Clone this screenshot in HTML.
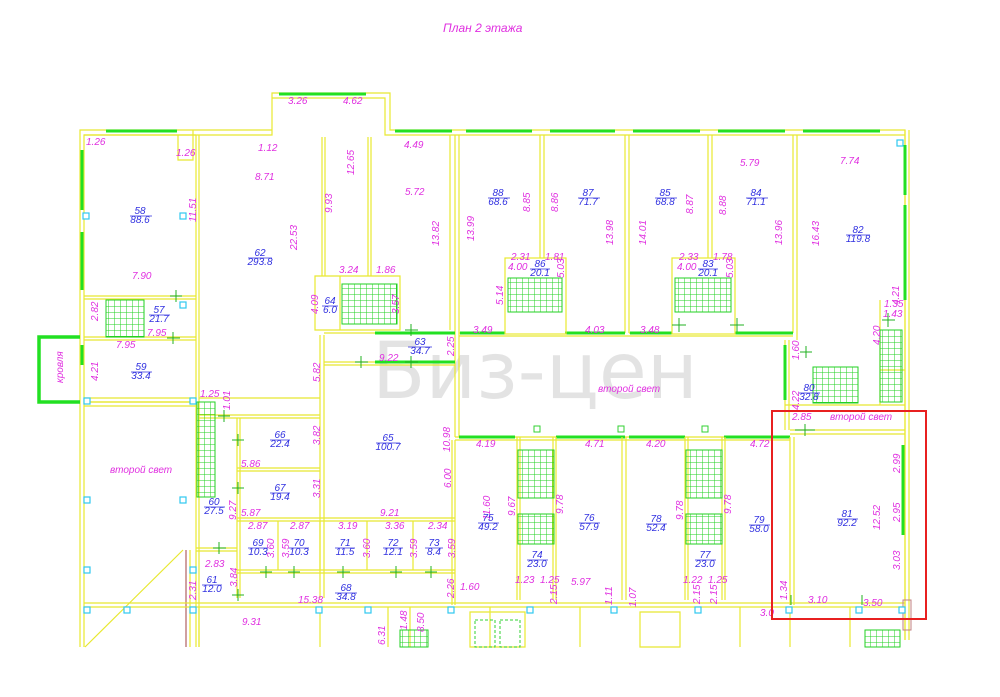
<!DOCTYPE html>
<html><head><meta charset="utf-8"><style>
html,body{margin:0;padding:0;background:#fff;}
svg{display:block;}
.y{fill:none;stroke:#e8e830;stroke-width:1.2}
.g{fill:none;stroke:#22e022;stroke-width:3}
.c{fill:#fff;stroke:#30c8f0;stroke-width:1.2}
text{font-family:"Liberation Sans",sans-serif;font-style:italic;}
.m{fill:#e030e0;font-size:10px}
.b{fill:#3030e0;font-size:10px;text-anchor:middle}
.t{fill:#e030e0;font-size:12px}
</style></head><body>
<svg width="1000" height="697" viewBox="0 0 1000 697" xmlns="http://www.w3.org/2000/svg">
<defs>
<pattern id="st" width="6" height="6" patternUnits="userSpaceOnUse"><path d="M0 0H6M0 0V6" stroke="#22d022" stroke-width="1" fill="none"/></pattern>
</defs>
<text class="t" x="443" y="32">План 2 этажа</text>

<text x="372" y="398" style="font-style:normal;font-size:78px;fill:#000;fill-opacity:0.11;font-family:'DejaVu Sans',sans-serif">Биз-цен</text>

<path class="y" d="M80 647V130H193V135H199M80 130H272V93H390V130H905V640M84 647V135H272V98H385V135H905"/>
<path class="y" d="M905 130V640M909 130V640M84 135H196M199 135V647M196 135V647"/>
<path class="g" d="M106 131H177M279 94H366M395 131H452M466 131H532M550 131H615M633 131H700M718 131H785M803 131H880"/>
<path class="g" d="M82 150V210M82 232V290M82 345V365M905 145V195M905 205V300M903 445V535"/>
<path class="g" style="stroke-width:3.5" d="M80 337H39V402H80"/>
<text class="m" transform="translate(63 383) rotate(-90)">кровля</text>

<path class="y" d="M84 296H196M84 299H196M84 337H196M84 340H196M84 398H196M84 402H196M193 135V160H178V135"/>
<rect x="106" y="300" width="38" height="37" fill="url(#st)" stroke="#22d022"/>
<path class="y" d="M322 137V276M325 137V276M368 137V276M371 137V276M455 135V437M459 135V437M450 135V330"/>
<path class="y" d="M315 276H400V330H315ZM340 276V330"/>
<rect x="342" y="284" width="55" height="40" fill="url(#st)" stroke="#22d022"/>
<path class="y" d="M320 335V598M324 335V598M324 333H455M324 362H455M324 365H455M199 398H320"/>
<path class="g" d="M375 333H455M375 362H455"/>
<path class="y" d="M540 135V258M544 135V258M625 135V333M629 135V333M708 135V258M712 135V258M793 135V333M797 135V340"/>
<path class="y" d="M459 333H505M565 333H625M629 333H672M735 333H793M459 336H793"/>
<path class="g" d="M460 333H505M565 333H625M630 333H672M735 333H793"/>
<rect x="505" y="258" width="61" height="76" class="y"/>
<rect x="672" y="258" width="63" height="76" class="y"/>
<rect x="508" y="278" width="54" height="34" fill="url(#st)" stroke="#22d022"/>
<rect x="675" y="278" width="56" height="34" fill="url(#st)" stroke="#22d022"/>
<path class="y" d="M785 340V430M789 340V430M785 405H905M880 300V405M880 370H905"/>
<rect x="813" y="367" width="45" height="36" fill="url(#st)" stroke="#22d022"/>
<rect x="880" y="330" width="22" height="72" fill="url(#st)" stroke="#22d022"/>
<path class="g" d="M785 345V400"/>
<path class="y" d="M455 437H790M455 440H790M790 430H905M790 434H905"/>
<path class="g" d="M459 437H515M556 437H625M629 437H685M724 437H790"/>
<path class="y" d="M517 437V600M520 437V600M553 437V600M556 437V600M622 437V600M626 437V600M685 437V600M688 437V600M722 437V600M725 437V600M790 437V605M794 437V605"/>
<rect x="518" y="450" width="36" height="48" fill="url(#st)" stroke="#22d022"/>
<rect x="518" y="514" width="36" height="30" fill="url(#st)" stroke="#22d022"/>
<rect x="686" y="450" width="36" height="48" fill="url(#st)" stroke="#22d022"/>
<rect x="686" y="514" width="36" height="30" fill="url(#st)" stroke="#22d022"/>
<path class="y" d="M199 415H320M199 418H320M237 418V598M240 418V598M237 468H320M237 471H320M320 518H455M237 518H320M237 521H455M237 570H455M237 573H455M455 440V605M452 440V605M278 521V570M320 521V570M367 521V570M413 521V570M196 548H237M196 551H237"/>
<rect x="197" y="402" width="18" height="95" fill="url(#st)" stroke="#22d022"/>
<path class="y" d="M84 402H196M84 406H196M85 647L183 550M190 550V647"/>
<path d="M186 550V647" stroke="#c08080" stroke-width="1.5" fill="none"/>
<path class="y" d="M84 603H905M84 607H905M199 607V647M320 607V647M388 607V647M410 607V647M490 607V647M580 607V647M740 607V647M790 607V647M850 607V647"/>
<path class="y" d="M470 612H525V647H470ZM640 612H680V647H640Z"/>
<rect x="475" y="620" width="20" height="27" fill="none" stroke="#30d030" stroke-dasharray="3 2"/>
<rect x="500" y="620" width="20" height="27" fill="none" stroke="#30d030" stroke-dasharray="3 2"/>
<rect x="400" y="630" width="28" height="17" fill="url(#st)" stroke="#22d022"/>
<rect x="865" y="630" width="35" height="17" fill="url(#st)" stroke="#22d022"/>
<rect x="903" y="600" width="8" height="30" fill="none" stroke="#c08080"/>
<g class="c">
<rect x="83" y="213" width="6" height="6"/><rect x="180" y="213" width="6" height="6"/><rect x="180" y="302" width="6" height="6"/>
<rect x="84" y="398" width="6" height="6"/><rect x="190" y="398" width="6" height="6"/><rect x="84" y="497" width="6" height="6"/><rect x="180" y="497" width="6" height="6"/>
<rect x="84" y="567" width="6" height="6"/><rect x="190" y="567" width="6" height="6"/>
<rect x="84" y="607" width="6" height="6"/><rect x="124" y="607" width="6" height="6"/><rect x="190" y="607" width="6" height="6"/>
<rect x="316" y="607" width="6" height="6"/><rect x="365" y="607" width="6" height="6"/><rect x="448" y="607" width="6" height="6"/>
<rect x="527" y="607" width="6" height="6"/><rect x="611" y="607" width="6" height="6"/><rect x="695" y="607" width="6" height="6"/>
<rect x="786" y="607" width="6" height="6"/><rect x="856" y="607" width="6" height="6"/><rect x="899" y="607" width="6" height="6"/>
<rect x="897" y="140" width="6" height="6"/>
</g>
<g fill="#fff" stroke="#30d030"><rect x="534" y="426" width="6" height="6"/><rect x="618" y="426" width="6" height="6"/><rect x="702" y="426" width="6" height="6"/></g>
<g stroke="#20b020" stroke-width="1" fill="none">
<path d="M170 296H182M176 290V302M167 338H180M173 332V344M405 330H418M411 324V336M405 362H418M411 356V368M355 362H368M361 356V368M218 416H230M224 410V422M232 440H244M238 434V446M232 488H244M238 482V494M232 595H244M238 589V601M213 548H226M219 542V554M260 572H272M266 566V578M288 572H300M294 566V578M337 572H350M343 566V578M390 572H402M396 566V578M425 572H437M431 566V578M795 430H815M805 424V436M791 595V605M862 595V605M800 352H812M806 346V358M882 320H895M888 313V327M672 325H686M679 318V332M730 325H744M737 318V332"/>
</g>

<g class="m">
<text x="86" y="145">1.26</text><text x="176" y="156">1.26</text><text x="258" y="151">1.12</text>
<text x="288" y="104">3.26</text><text x="343" y="104">4.62</text><text x="255" y="180">8.71</text>
<text x="404" y="148">4.49</text><text x="405" y="195">5.72</text><text x="132" y="279">7.90</text>
<text x="339" y="273">3.24</text><text x="376" y="273">1.86</text>
<text x="147" y="336">7.95</text><text x="116" y="348">7.95</text><text x="200" y="397">1.25</text>
<text x="379" y="361">9.22</text><text x="110" y="473">второй свет</text><text x="598" y="392">второй свет</text>
<text x="473" y="333">3.49</text><text x="585" y="333">4.03</text><text x="640" y="333">3.48</text>
<text x="511" y="260">2.31</text><text x="545" y="260">1.81</text><text x="679" y="260">2.33</text><text x="713" y="260">1.78</text>
<text x="508" y="270">4.00</text><text x="677" y="270">4.00</text>
<text x="740" y="166">5.79</text><text x="840" y="164">7.74</text>
<text x="476" y="447">4.19</text><text x="585" y="447">4.71</text><text x="646" y="447">4.20</text><text x="750" y="447">4.72</text>
<text x="792" y="420">2.85</text><text x="830" y="420">второй свет</text>
<text x="241" y="467">5.86</text><text x="241" y="516">5.87</text><text x="380" y="516">9.21</text>
<text x="248" y="529">2.87</text><text x="290" y="529">2.87</text><text x="338" y="529">3.19</text><text x="385" y="529">3.36</text><text x="428" y="529">2.34</text>
<text x="205" y="567">2.83</text><text x="298" y="603">15.38</text><text x="460" y="590">1.60</text><text x="242" y="625">9.31</text>
<text x="515" y="583">1.23</text><text x="540" y="583">1.25</text><text x="571" y="585">5.97</text><text x="683" y="583">1.22</text><text x="708" y="583">1.25</text>
<text x="808" y="603">3.10</text><text x="863" y="606">3.50</text><text x="760" y="616">3.0</text>
<text x="884" y="307">1.35</text><text x="883" y="317">1.43</text>
</g>
<g class="m">
<text transform="translate(196 222) rotate(-90)">11.51</text><text transform="translate(297 250) rotate(-90)">22.53</text>
<text transform="translate(332 213) rotate(-90)">9.93</text><text transform="translate(354 175) rotate(-90)">12.65</text>
<text transform="translate(439 246) rotate(-90)">13.82</text><text transform="translate(98 321) rotate(-90)">2.82</text>
<text transform="translate(318 314) rotate(-90)">4.09</text><text transform="translate(399 314) rotate(-90)">3.57</text>
<text transform="translate(98 381) rotate(-90)">4.21</text><text transform="translate(320 382) rotate(-90)">5.82</text>
<text transform="translate(454 356) rotate(-90)">2.25</text><text transform="translate(230 410) rotate(-90)">1.01</text>
<text transform="translate(320 445) rotate(-90)">3.82</text><text transform="translate(450 452) rotate(-90)">10.98</text>
<text transform="translate(451 488) rotate(-90)">6.00</text><text transform="translate(320 498) rotate(-90)">3.31</text>
<text transform="translate(236 520) rotate(-90)">9.27</text><text transform="translate(274 558) rotate(-90)">3.60</text>
<text transform="translate(289 558) rotate(-90)">3.59</text><text transform="translate(370 558) rotate(-90)">3.60</text>
<text transform="translate(417 558) rotate(-90)">3.59</text><text transform="translate(455 558) rotate(-90)">3.59</text>
<text transform="translate(237 587) rotate(-90)">3.84</text><text transform="translate(196 600) rotate(-90)">2.31</text>
<text transform="translate(454 598) rotate(-90)">2.26</text><text transform="translate(385 645) rotate(-90)">6.31</text>
<text transform="translate(407 630) rotate(-90)">1.48</text><text transform="translate(424 632) rotate(-90)">8.50</text>
<text transform="translate(474 241) rotate(-90)">13.99</text><text transform="translate(530 212) rotate(-90)">8.85</text>
<text transform="translate(558 212) rotate(-90)">8.86</text><text transform="translate(613 245) rotate(-90)">13.98</text>
<text transform="translate(646 245) rotate(-90)">14.01</text><text transform="translate(693 214) rotate(-90)">8.87</text>
<text transform="translate(726 215) rotate(-90)">8.88</text><text transform="translate(782 245) rotate(-90)">13.96</text>
<text transform="translate(819 246) rotate(-90)">16.43</text><text transform="translate(503 305) rotate(-90)">5.14</text>
<text transform="translate(564 278) rotate(-90)">5.03</text><text transform="translate(733 278) rotate(-90)">5.03</text>
<text transform="translate(799 360) rotate(-90)">1.60</text><text transform="translate(880 345) rotate(-90)">4.20</text>
<text transform="translate(899 305) rotate(-90)">4.21</text><text transform="translate(799 410) rotate(-90)">4.22</text>
<text transform="translate(490 520) rotate(-90)">11.60</text><text transform="translate(515 516) rotate(-90)">9.67</text>
<text transform="translate(563 514) rotate(-90)">9.78</text><text transform="translate(683 520) rotate(-90)">9.78</text>
<text transform="translate(731 514) rotate(-90)">9.78</text><text transform="translate(880 530) rotate(-90)">12.52</text>
<text transform="translate(900 473) rotate(-90)">2.99</text><text transform="translate(900 522) rotate(-90)">2.95</text>
<text transform="translate(900 570) rotate(-90)">3.03</text><text transform="translate(557 604) rotate(-90)">2.15</text>
<text transform="translate(612 605) rotate(-90)">1.11</text><text transform="translate(636 607) rotate(-90)">1.07</text>
<text transform="translate(700 604) rotate(-90)">2.15</text><text transform="translate(717 604) rotate(-90)">2.15</text>
<text transform="translate(787 600) rotate(-90)">1.34</text>
</g>

<g class="b" stroke="none">
<text x="140" y="214">58</text><text x="140" y="223">88.6</text>
<text x="260" y="256">62</text><text x="260" y="265">293.8</text>
<text x="159" y="313">57</text><text x="159" y="322">21.7</text>
<text x="141" y="370">59</text><text x="141" y="379">33.4</text>
<text x="330" y="304">64</text><text x="330" y="313">6.0</text>
<text x="420" y="345">63</text><text x="420" y="354">34.7</text>
<text x="498" y="196">88</text><text x="498" y="205">68.6</text>
<text x="588" y="196">87</text><text x="588" y="205">71.7</text>
<text x="665" y="196">85</text><text x="665" y="205">68.8</text>
<text x="756" y="196">84</text><text x="756" y="205">71.1</text>
<text x="858" y="233">82</text><text x="858" y="242">119.8</text>
<text x="540" y="267">86</text><text x="540" y="276">20.1</text>
<text x="708" y="267">83</text><text x="708" y="276">20.1</text>
<text x="809" y="391">80</text><text x="809" y="400">32.8</text>
<text x="280" y="438">66</text><text x="280" y="447">22.4</text>
<text x="388" y="441">65</text><text x="388" y="450">100.7</text>
<text x="280" y="491">67</text><text x="280" y="500">19.4</text>
<text x="214" y="505">60</text><text x="214" y="514">27.5</text>
<text x="258" y="546">69</text><text x="258" y="555">10.3</text>
<text x="299" y="546">70</text><text x="299" y="555">10.3</text>
<text x="345" y="546">71</text><text x="345" y="555">11.5</text>
<text x="393" y="546">72</text><text x="393" y="555">12.1</text>
<text x="434" y="546">73</text><text x="434" y="555">8.4</text>
<text x="212" y="583">61</text><text x="212" y="592">12.0</text>
<text x="346" y="591">68</text><text x="346" y="600">34.8</text>
<text x="488" y="521">75</text><text x="488" y="530">49.2</text>
<text x="589" y="521">76</text><text x="589" y="530">57.9</text>
<text x="656" y="522">78</text><text x="656" y="531">52.4</text>
<text x="759" y="523">79</text><text x="759" y="532">58.0</text>
<text x="537" y="558">74</text><text x="537" y="567">23.0</text>
<text x="705" y="558">77</text><text x="705" y="567">23.0</text>
<text x="847" y="517">81</text><text x="847" y="526">92.2</text>
</g>
<g stroke="#3030e0" stroke-width="0.8">
<path d="M130 216H152M248 258H272M149 315H170M131 372H152M322 306H338M408 347H432M488 198H510M578 198H600M655 198H677M746 198H768M846 235H870M530 269H550M698 269H718M799 393H820M270 440H290M376 443H400M270 493H290M204 507H225M248 548H268M289 548H309M335 548H355M383 548H403M425 548H443M202 585H222M335 593H357M478 523H499M579 523H600M646 524H667M749 525H770M527 560H548M695 560H716M837 519H858"/>
</g>

<rect x="772" y="411" width="154" height="208" fill="none" stroke="#e82020" stroke-width="2"/>
</svg>
</body></html>
